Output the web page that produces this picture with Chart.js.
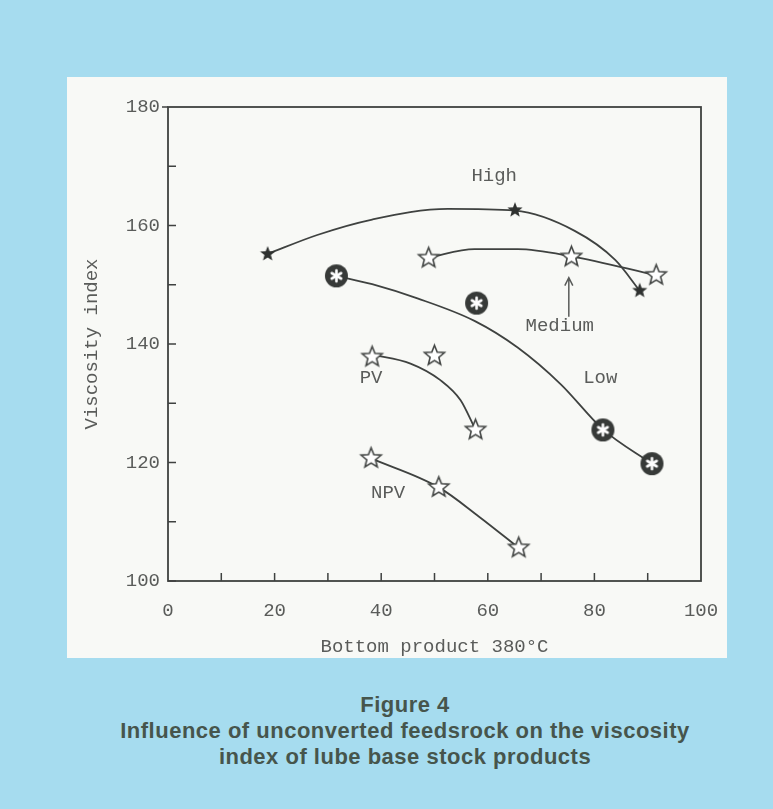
<!DOCTYPE html>
<html>
<head>
<meta charset="utf-8">
<script src="https://cdn.jsdelivr.net/npm/chart.js@4.4.1/dist/chart.umd.min.js"></script>
<style>
  html, body { margin: 0; padding: 0; }
  body { width: 773px; height: 809px; background: #a6dcef; position: relative; overflow: hidden; }
  #panel { position: absolute; left: 67px; top: 77px; width: 660px; height: 581px; background: #f8f9f6; }
  #caption { position: absolute; left: 105px; width: 600px; top: 692px; text-align: center;
    font-family: "Liberation Sans", Arial, sans-serif; font-weight: bold; font-size: 22px;
    letter-spacing: 0.5px; line-height: 26px; color: #46554c; }
</style>
</head>
<body>
<div id="panel"><canvas id="myChart" width="660" height="581"></canvas></div>
<div id="caption">Figure 4<br>Influence of unconverted feedsrock on the viscosity<br>index of lube base stock products</div>
<script>
// measured points
const highX = [18.7, 65.1, 88.5];
const highY = [155.2, 162.6, 149.0];
const mediumX = [48.9, 75.7, 91.6];
const mediumY = [154.5, 154.7, 151.6];
const lowX = [31.6, 57.9, 81.6, 90.8];
const lowY = [151.5, 146.9, 125.5, 119.8];
const pvX = [38.3, 50.0, 57.7];
const pvY = [137.8, 138.0, 125.5];
const npvX = [38.1, 50.8, 65.8];
const npvY = [120.7, 115.8, 105.6];

// fitted curves
const highCurveX = [18.7, 28, 38.3, 52.5, 65.1, 76.3, 83.9, 88.5];
const highCurveY = [155.2, 158.4, 161.0, 162.8, 162.5, 159.1, 154.2, 149.0];
const mediumCurveX = [48.9, 57.5, 65.6, 75.7, 91.6];
const mediumCurveY = [154.6, 156.0, 156.0, 154.8, 151.6];
const lowCurveX = [31.6, 38.3, 46.8, 57.5, 65.6, 73.7, 81.6, 90.8];
const lowCurveY = [151.5, 150.1, 147.7, 143.9, 139.4, 133.2, 125.6, 119.8];
const pvCurveX = [38.3, 45.5, 51.1, 54.9, 57.7];
const pvCurveY = [138.2, 136.7, 133.9, 130.5, 125.5];
const npvCurveX = [38.1, 50.8, 58.3, 65.8];
const npvCurveY = [120.7, 115.8, 110.9, 105.6];

// curve names
const names = ['High', 'Medium', 'Low', 'PV', 'NPV'];
const nameX = [61.2, 73.5, 81.1, 38.1, 41.3];
const nameY = [168.4, 143.0, 134.3, 134.3, 114.9];
const arrowX = 75.2;
const arrowFrom = 144.6;
const arrowTo = 151.2;

const ink = '#3f4240';
const textCol = '#5a5c5a';
const monoFont = { family: '"Liberation Mono", "DejaVu Sans Mono", monospace', size: 19 };

function pts(xs, ys) {
  return xs.map((x, i) => ({ x: x, y: ys[i] }));
}

function star(outer, inner, fill, stroke, lw) {
  const s = Math.ceil(outer * 2 + lw * 2 + 2);
  const c = document.createElement('canvas');
  c.width = s; c.height = s;
  const g = c.getContext('2d');
  g.translate(s / 2, s / 2);
  g.beginPath();
  for (let i = 0; i < 10; i++) {
    const r = i % 2 === 0 ? outer : inner;
    const a = -Math.PI / 2 + i * Math.PI / 5;
    g.lineTo(r * Math.cos(a), r * Math.sin(a));
  }
  g.closePath();
  g.fillStyle = fill;
  g.fill();
  if (stroke) {
    g.lineWidth = lw;
    g.strokeStyle = stroke;
    g.lineJoin = 'miter';
    g.stroke();
  }
  return c;
}

function circleStar(r) {
  const s = r * 2 + 2;
  const c = document.createElement('canvas');
  c.width = s; c.height = s;
  const g = c.getContext('2d');
  g.translate(s / 2, s / 2);
  g.beginPath();
  g.arc(0, 0, r, 0, Math.PI * 2);
  g.fillStyle = '#373a38';
  g.fill();
  g.strokeStyle = '#ffffff';
  g.lineWidth = 2.6;
  g.lineCap = 'round';
  for (let i = 0; i < 3; i++) {
    const a = Math.PI / 2 + i * Math.PI / 3;
    g.beginPath();
    g.moveTo(-5.5 * Math.cos(a), -5.5 * Math.sin(a));
    g.lineTo(5.5 * Math.cos(a), 5.5 * Math.sin(a));
    g.stroke();
  }
  return c;
}

const filledStar = star(8, 3.4, '#2f3230', null, 0);
const openStar = star(10.5, 4.6, '#ffffff', '#434644', 1.6);
const ringStar = circleStar(11.5);

function curve(xs, ys) {
  return {
    data: pts(xs, ys),
    showLine: true,
    pointRadius: 0,
    borderColor: ink,
    borderWidth: 1.8,
    cubicInterpolationMode: 'monotone',
    order: 1
  };
}

function marks(xs, ys, img) {
  return {
    data: pts(xs, ys),
    showLine: false,
    pointStyle: img,
    pointRadius: 10,
    order: 0
  };
}

const decor = {
  id: 'decor',
  afterDatasetsDraw(chart) {
    const { ctx, chartArea: a, scales: { x, y } } = chart;
    ctx.save();
    ctx.strokeStyle = ink;
    ctx.lineWidth = 1.8;
    ctx.strokeRect(a.left, a.top, a.right - a.left, a.bottom - a.top);
    ctx.lineWidth = 1.5;
    ctx.beginPath();
    x.ticks.forEach(t => {
      if (t.value <= 0 || t.value >= 100) return;
      const px = x.getPixelForValue(t.value);
      ctx.moveTo(px, a.bottom);
      ctx.lineTo(px, a.bottom - 8);
    });
    y.ticks.forEach(t => {
      if (t.value >= 180) return;
      const py = y.getPixelForValue(t.value);
      ctx.moveTo(a.left, py);
      ctx.lineTo(a.left + 8, py);
    });
    ctx.moveTo(a.left - 6, a.top);
    ctx.lineTo(a.left, a.top);
    ctx.stroke();

    ctx.fillStyle = textCol;
    ctx.font = monoFont.size + 'px ' + monoFont.family;
    ctx.textAlign = 'center';
    ctx.textBaseline = 'middle';
    names.forEach((n, i) => {
      ctx.fillText(n, x.getPixelForValue(nameX[i]), y.getPixelForValue(nameY[i]));
    });

    // arrow to the Medium curve
    const ax = x.getPixelForValue(arrowX);
    const y0 = y.getPixelForValue(arrowFrom);
    const y1 = y.getPixelForValue(arrowTo);
    ctx.strokeStyle = textCol;
    ctx.lineWidth = 1.5;
    ctx.beginPath();
    ctx.moveTo(ax, y0);
    ctx.lineTo(ax, y1);
    ctx.moveTo(ax - 4, y1 + 8);
    ctx.lineTo(ax, y1);
    ctx.lineTo(ax + 4, y1 + 8);
    ctx.stroke();
    ctx.restore();
  }
};

const ctx = document.getElementById('myChart');

const myChart = new Chart(ctx, {
  type: 'scatter',
  data: {
    datasets: [
      curve(highCurveX, highCurveY),
      curve(mediumCurveX, mediumCurveY),
      curve(lowCurveX, lowCurveY),
      curve(pvCurveX, pvCurveY),
      curve(npvCurveX, npvCurveY),
      marks(highX, highY, filledStar),
      marks(mediumX, mediumY, openStar),
      marks(lowX, lowY, ringStar),
      marks(pvX, pvY, openStar),
      marks(npvX, npvY, openStar)
    ]
  },
  options: {
    responsive: false,
    animation: false,
    layout: { padding: { left: 0, right: 26, top: 30, bottom: 0 } },
    plugins: { legend: { display: false }, tooltip: { enabled: false } },
    scales: {
      x: {
        type: 'linear',
        min: 0,
        max: 100,
        grid: { drawOnChartArea: false, drawTicks: false },
        border: { display: false },
        ticks: {
          stepSize: 10,
          autoSkip: false,
          maxRotation: 0,
          padding: 19,
          color: textCol,
          font: monoFont,
          callback: v => (v % 20 === 0 ? v : '')
        },
        title: { display: true, text: 'Bottom product 380°C', color: textCol, font: monoFont, padding: { top: 0, bottom: 0 } },
        afterFit: s => { s.height = 77; s.paddingLeft = 0; s.paddingRight = 0; }
      },
      y: {
        type: 'linear',
        min: 100,
        max: 180,
        grid: { drawOnChartArea: false, drawTicks: false },
        border: { display: false },
        ticks: {
          stepSize: 10,
          autoSkip: false,
          padding: 8,
          color: textCol,
          font: monoFont,
          callback: v => (v % 20 === 0 ? v : '')
        },
        title: { display: true, text: 'Viscosity index', color: textCol, font: monoFont, padding: { top: 14, bottom: 0 } },
        afterFit: s => { s.width = 101; s.paddingTop = 0; s.paddingBottom = 0; }
      }
    }
  },
  plugins: [decor]
});
</script>
</body>
</html>
